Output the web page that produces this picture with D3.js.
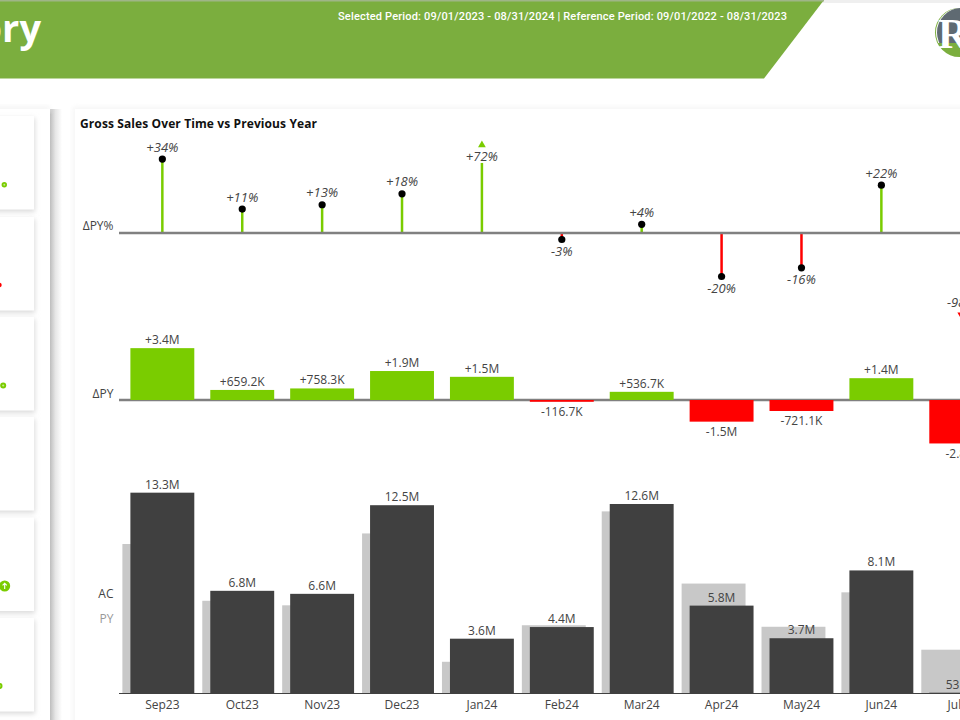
<!DOCTYPE html>
<html>
<head>
<meta charset="utf-8">
<style>
  html, body { margin: 0; padding: 0; background: #fff; overflow: hidden; }
  text { font-family: "Open Sans", sans-serif; }
</style>
<script src="https://cdnjs.cloudflare.com/ajax/libs/d3/7.9.0/d3.min.js"></script>
</head>
<body>
<div id="chart"></div>
<script>
const months = ["Sep23", "Oct23", "Nov23", "Dec23", "Jan24", "Feb24", "Mar24", "Apr24", "May24", "Jun24", "Jul24"];

// values in millions
const acValues = [13.3, 6.8, 6.6, 12.47, 3.63, 4.4, 12.55, 5.82, 3.66, 8.15, 0.053];
const pyValues = [9.9, 6.14, 5.84, 10.6, 2.1, 4.52, 12.06, 7.28, 4.42, 6.7, 2.9];
const acLabels = ["13.3M", "6.8M", "6.6M", "12.5M", "3.6M", "4.4M", "12.6M", "5.8M", "3.7M", "8.1M", "53.4K"];

const deltaValues = [3.4, 0.6592, 0.7583, 1.9, 1.52, -0.1167, 0.5367, -1.42, -0.7211, 1.43, -2.85];
const deltaLabels = ["+3.4M", "+659.2K", "+758.3K", "+1.9M", "+1.5M", "-116.7K", "+536.7K", "-1.5M", "-721.1K", "+1.4M", "-2.8M"];

const pctValues = [34, 11, 13, 18, 72, -3, 4, -20, -16, 22, -98];
const pctLabels = ["+34%", "+11%", "+13%", "+18%", "+72%", "-3%", "+4%", "-20%", "-16%", "+22%", "-98%"];

// anything past the limit is an outlier: stem gets cut and a triangle is drawn
const pctOutlierLimit = 40;
const pctCapHigh = 32.2;
const pctCapLow = -27;

const width = 960;
const height = 720;
const green = "#7acc00";
const red = "#ff0000";
const headerGreen = "#7bae3e";

const svg = d3.select("#chart")
  .append("svg")
  .attr("width", width)
  .attr("height", height)
  .style("display", "block");

const defs = svg.append("defs");
const soft = defs.append("filter").attr("id", "soft")
  .attr("x", "-20%").attr("y", "-20%").attr("width", "140%").attr("height", "140%");
soft.append("feGaussianBlur").attr("stdDeviation", 2.5);

const sideShadow = defs.append("linearGradient").attr("id", "sideShadow");
sideShadow.append("stop").attr("offset", "0%").attr("stop-color", "#bdbdbd");
sideShadow.append("stop").attr("offset", "45%").attr("stop-color", "#e6e6e6");
sideShadow.append("stop").attr("offset", "100%").attr("stop-color", "#ffffff");

// page chrome
svg.append("rect").attr("width", width).attr("height", 3).attr("fill", "#efefef");
svg.append("polygon")
  .attr("points", "0,0 824,0 764,78.5 0,78.5")
  .attr("fill", headerGreen);
svg.append("rect").attr("width", 824).attr("height", 1.5).attr("fill", "#9fb587");

svg.append("text")
  .attr("x", 41)
  .attr("y", 42)
  .attr("text-anchor", "end")
  .style("font-size", "38px")
  .style("font-weight", "700")
  .style("fill", "#fff")
  .text("ory");

svg.append("text")
  .attr("x", 338)
  .attr("y", 20)
  .attr("textLength", 449)
  .attr("lengthAdjust", "spacing")
  .style("font-family", "Roboto, sans-serif")
  .style("font-size", "11px")
  .style("font-weight", "500")
  .style("fill", "#fff")
  .text("Selected Period: 09/01/2023 - 08/31/2024 | Reference Period: 09/01/2022 - 08/31/2023");

// logo, cut by the window edge
const logo = svg.append("g");
defs.append("clipPath").attr("id", "logoTop")
  .append("rect").attr("x", 930).attr("y", 0).attr("width", 40).attr("height", 43);
logo.append("circle").attr("cx", 959.5).attr("cy", 32.5).attr("r", 24.5).attr("fill", headerGreen);
logo.append("circle").attr("cx", 960.5).attr("cy", 32.5).attr("r", 24.5)
  .attr("fill", "#fff").attr("clip-path", "url(#logoTop)");
logo.append("circle").attr("cx", 961.5).attr("cy", 32.5).attr("r", 24.5)
  .attr("fill", "#5f6a72").attr("clip-path", "url(#logoTop)");
logo.append("text")
  .attr("x", 938)
  .attr("y", 48)
  .style("font-family", "'Liberation Serif', serif")
  .style("font-size", "42px")
  .style("font-weight", "700")
  .style("fill", "#fff")
  .text("R");

// left panel with the kpi cards, mostly outside the window
svg.append("rect").attr("x", 50).attr("y", 109).attr("width", 12).attr("height", 611).attr("fill", "url(#sideShadow)");
svg.append("rect").attr("x", -10).attr("y", 106).attr("width", 60).attr("height", 6).attr("fill", "#f5f5f5").attr("filter", "url(#soft)");
svg.append("rect").attr("x", 0).attr("y", 109).attr("width", 50).attr("height", 611).attr("fill", "#fff");

const cardTops = [116, 217, 317, 417, 517.5, 618];
cardTops.forEach((top) => {
  svg.append("rect").attr("x", -8).attr("y", top + 2).attr("width", 43).attr("height", 94)
    .attr("fill", "#dcdcdc").attr("filter", "url(#soft)");
  svg.append("rect").attr("x", -8).attr("y", top).attr("width", 42).attr("height", 93.5).attr("fill", "#fff");
});

const cardIcons = [
  { x: 4.3, y: 184.7, r: 2.7, color: green, inner: "#c4e88f" },
  { x: -0.5, y: 285, r: 2.2, color: red, inner: red },
  { x: 3.2, y: 385.5, r: 3, color: green, inner: "#c4e88f" },
  { x: 4.7, y: 586, r: 5.5, color: green, inner: green },
  { x: -0.5, y: 686, r: 3, color: green, inner: "#c4e88f" },
];
cardIcons.forEach((icon) => {
  svg.append("circle").attr("cx", icon.x).attr("cy", icon.y).attr("r", icon.r).attr("fill", icon.color);
  svg.append("circle").attr("cx", icon.x).attr("cy", icon.y).attr("r", icon.r * 0.35).attr("fill", icon.inner);
});
svg.append("path")
  .attr("d", "M4.7,589 V583.4 M2.6,585.4 L4.7,583.2 L6.8,585.4")
  .attr("fill", "none")
  .attr("stroke", "#fff")
  .attr("stroke-width", 1.1);

// chart panel
svg.append("rect").attr("x", 73).attr("y", 107).attr("width", 900).attr("height", 620).attr("fill", "#f5f5f5").attr("filter", "url(#soft)");
svg.append("rect").attr("x", 75).attr("y", 109).attr("width", 890).attr("height", 615).attr("fill", "#fff");

svg.append("text")
  .attr("x", 80)
  .attr("y", 128)
  .attr("textLength", 237)
  .attr("lengthAdjust", "spacing")
  .style("font-size", "12px")
  .style("font-weight", "700")
  .style("fill", "#111")
  .text("Gross Sales Over Time vs Previous Year");

// scales
const x = d3.scaleBand()
  .domain(months)
  .range([122.4, 1001.2])
  .paddingInner(0.2)
  .paddingOuter(0.1);

const pctBase = 233;
const deltaBase = 400;
const acBase = 693.5;

const yPct = d3.scaleLinear().domain([-40, 40]).range([pctBase + 87, pctBase - 87]);
const yDelta = d3.scaleLinear().domain([-4, 4]).range([deltaBase + 61, deltaBase - 61]);
const yAc = d3.scaleLinear().domain([0, 15]).range([acBase, acBase - 226.5]);

const rows = months.map((month, i) => ({
  month,
  ac: acValues[i],
  py: pyValues[i],
  acLabel: acLabels[i],
  delta: deltaValues[i],
  deltaLabel: deltaLabels[i],
  pct: pctValues[i],
  pctLabel: pctLabels[i],
}));

const center = (d) => x(d.month) + x.bandwidth() / 2;
const isOutlier = (d) => Math.abs(d.pct) > pctOutlierLimit;
const pctEnd = (d) => (isOutlier(d) ? (d.pct > 0 ? pctCapHigh : pctCapLow) : d.pct);

function pctLabelOffset(d) {
  if (isOutlier(d)) return d.pct > 0 ? -2 : 15;
  return d.pct >= 0 ? -7.5 : 16;
}

function rowLabel(text, y, color) {
  svg.append("text")
    .attr("x", 113.5)
    .attr("y", y)
    .attr("text-anchor", "end")
    .style("font-size", "12px")
    .style("fill", color)
    .text(text);
}
rowLabel("ΔPY%", 230, "#444");
rowLabel("ΔPY", 398, "#444");
rowLabel("AC", 598, "#444");
rowLabel("PY", 623, "#999");

// ΔPY% lollipops
const pctLayer = svg.append("g");

pctLayer.selectAll("line.stem")
  .data(rows)
  .join("line")
  .attr("class", "stem")
  .attr("x1", center)
  .attr("x2", center)
  .attr("y1", yPct(0))
  .attr("y2", (d) => yPct(pctEnd(d)))
  .attr("stroke", (d) => (d.pct >= 0 ? green : red))
  .attr("stroke-width", 2.5);

pctLayer.append("line")
  .attr("x1", 119)
  .attr("x2", width)
  .attr("y1", yPct(0))
  .attr("y2", yPct(0))
  .attr("stroke", "#808080")
  .attr("stroke-width", 2.5);

pctLayer.selectAll("circle")
  .data(rows.filter((d) => !isOutlier(d)))
  .join("circle")
  .attr("cx", center)
  .attr("cy", (d) => yPct(d.pct))
  .attr("r", 3.6)
  .attr("fill", "#000");

pctLayer.selectAll("text")
  .data(rows)
  .join("text")
  .attr("x", center)
  .attr("y", (d) => yPct(pctEnd(d)) + pctLabelOffset(d))
  .attr("text-anchor", "middle")
  .style("font-size", "13px")
  .style("font-style", "italic")
  .style("fill", "#444")
  .text((d) => d.pctLabel);

pctLayer.selectAll("path.cap")
  .data(rows.filter(isOutlier))
  .join("path")
  .attr("class", "cap")
  .attr("d", d3.symbol(d3.symbolTriangle, 26))
  .attr("transform", (d) => (d.pct > 0
    ? `translate(${center(d)},${yPct(pctEnd(d)) - 18})`
    : `translate(${center(d)},${yPct(pctEnd(d)) + 23}) rotate(180)`))
  .attr("fill", (d) => (d.pct >= 0 ? green : red));

// ΔPY bars, the axis line goes under them so thin bars stay visible
const deltaLayer = svg.append("g");

deltaLayer.append("line")
  .attr("x1", 119)
  .attr("x2", width)
  .attr("y1", yDelta(0))
  .attr("y2", yDelta(0))
  .attr("stroke", "#808080")
  .attr("stroke-width", 2.5);

deltaLayer.selectAll("rect")
  .data(rows)
  .join("rect")
  .attr("x", (d) => x(d.month))
  .attr("y", (d) => yDelta(Math.max(0, d.delta)))
  .attr("width", x.bandwidth())
  .attr("height", (d) => Math.abs(yDelta(d.delta) - yDelta(0)))
  .attr("fill", (d) => (d.delta >= 0 ? green : red));

deltaLayer.selectAll("text")
  .data(rows)
  .join("text")
  .attr("x", center)
  .attr("y", (d) => (d.delta >= 0 ? yDelta(d.delta) - 4 : yDelta(d.delta) + 14.5))
  .attr("text-anchor", "middle")
  .style("font-size", "12px")
  .style("fill", "#444")
  .text((d) => d.deltaLabel);

// AC and PY bars
const acLayer = svg.append("g");

acLayer.selectAll("rect.py")
  .data(rows)
  .join("rect")
  .attr("class", "py")
  .attr("x", (d) => x(d.month) - 8)
  .attr("y", (d) => yAc(d.py))
  .attr("width", x.bandwidth())
  .attr("height", (d) => yAc(0) - yAc(d.py))
  .attr("fill", "#c8c8c8");

acLayer.selectAll("rect.ac")
  .data(rows)
  .join("rect")
  .attr("class", "ac")
  .attr("x", (d) => x(d.month))
  .attr("y", (d) => yAc(d.ac))
  .attr("width", x.bandwidth())
  .attr("height", (d) => yAc(0) - yAc(d.ac))
  .attr("fill", "#404040");

acLayer.selectAll("text")
  .data(rows)
  .join("text")
  .attr("x", center)
  .attr("y", (d) => yAc(d.ac) - 4)
  .attr("text-anchor", "middle")
  .style("font-size", "12px")
  .style("fill", "#444")
  .text((d) => d.acLabel);

const xAxis = svg.append("g")
  .attr("transform", `translate(0,${acBase})`)
  .call(d3.axisBottom(x).tickSize(0).tickPadding(7));

xAxis.select("path.domain").remove();
xAxis.selectAll("text")
  .style("font-family", '"Open Sans", sans-serif')
  .style("font-size", "12px")
  .style("fill", "#444");

svg.append("line")
  .attr("x1", 119)
  .attr("x2", width)
  .attr("y1", acBase)
  .attr("y2", acBase)
  .attr("stroke", "#404040")
  .attr("stroke-width", 1);
</script>
</body>
</html>
